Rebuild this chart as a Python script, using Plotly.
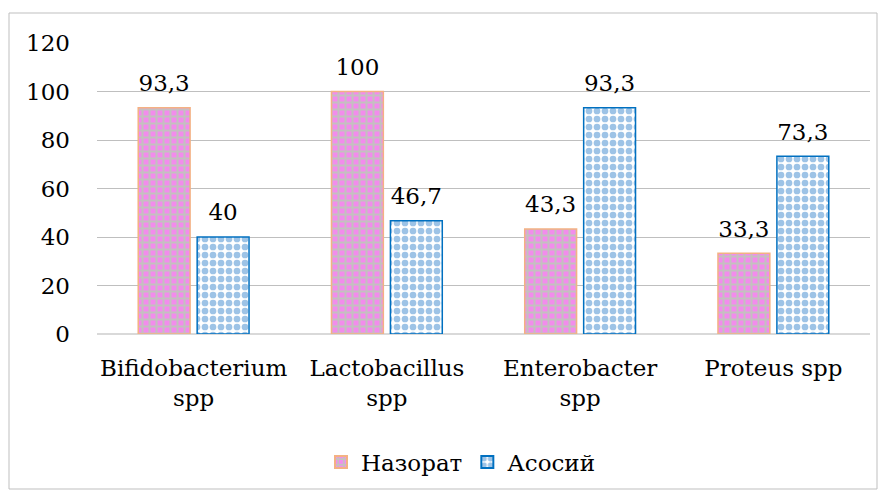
import plotly.graph_objects as go

categories = ["Bifidobacterium<br>spp", "Lactobacillus<br>spp", "Enterobacter<br>spp", "Proteus spp"]
nazorat = [93.3, 100, 43.3, 33.3]
asosiy = [40, 46.7, 93.3, 73.3]
nazorat_labels = ["93,3", "100", "43,3", "33,3"]
asosiy_labels = ["40", "46,7", "93,3", "73,3"]
y_ticks = [0, 20, 40, 60, 80, 100, 120]

W, H = 885, 492
L, R, T, B = 97, 15, 43, 158

FAMILY = "DejaVu Serif"
font = dict(family=FAMILY, size=23, color="#000000")

fig = go.Figure()
fig.add_trace(go.Bar(
    x=categories, y=nazorat, name="Назорат", offsetgroup="a",
    marker=dict(color="#F28CEC", line=dict(color="#F4B183", width=1.5),
                pattern=dict(shape="+", fgcolor="#C4C0C0", bgcolor="#F28CEC",
                             size=7, solidity=0.5, fillmode="replace")),
))
fig.add_trace(go.Bar(
    x=categories, y=asosiy, name="Асосий", offsetgroup="b",
    marker=dict(color="#FFFFFF", line=dict(color="#0070C0", width=1.5),
                pattern=dict(shape=".", fgcolor="#9DC3E6", bgcolor="#FFFFFF",
                             size=8, solidity=0.55, fillmode="replace")),
))
# data labels
for vals, labs, grp in [(nazorat, nazorat_labels, "a"), (asosiy, asosiy_labels, "b")]:
    fig.add_trace(go.Scatter(
        x=categories, y=vals, text=labs, mode="markers+text", offsetgroup=grp,
        textposition="top center", textfont=font, cliponaxis=False,
        marker=dict(size=16, color="rgba(0,0,0,0)"), showlegend=False, hoverinfo="skip",
    ))

pw = W - L - R
ph = H - T - B
px0 = (9 - L) / pw
px1 = (877 - L) / pw
py1 = 1 + (T - 13) / ph
py0 = -(489 - (H - B)) / ph
fig.add_shape(type="rect", xref="paper", yref="paper", x0=px0, x1=px1, y0=py0, y1=py1,
              line=dict(color="#BFBFBF", width=1), layer="below")

fig.update_layout(
    width=W, height=H,
    margin=dict(l=L, r=R, t=T, b=B, autoexpand=False),
    paper_bgcolor="white", plot_bgcolor="white",
    bargap=0.39, bargroupgap=0.12,
    scattermode="group", scattergap=0.39,
    font=font,
    showlegend=True,
    legend=dict(orientation="h", x=(461 - L) / pw, xanchor="center", y=-(462 - (H - B)) / ph,
                yanchor="middle", font=font, itemsizing="constant"),
    yaxis=dict(range=[0, 120], tickvals=y_ticks, showgrid=True, gridcolor="#BFBFBF",
               gridwidth=1, zeroline=True, zerolinecolor="#D9D9D9", showline=False,
               ticks="", ticklabelstandoff=26, tickfont=font, automargin=False),
    xaxis=dict(showline=True, linecolor="#D9D9D9", ticks="", tickfont=font, tickangle=0,
               automargin=False, ticklabelstandoff=13),
)

fig.write_html("out.html", config={"displayModeBar": False},
               post_script="document.body.style.margin='0';document.body.style.padding='0';")
